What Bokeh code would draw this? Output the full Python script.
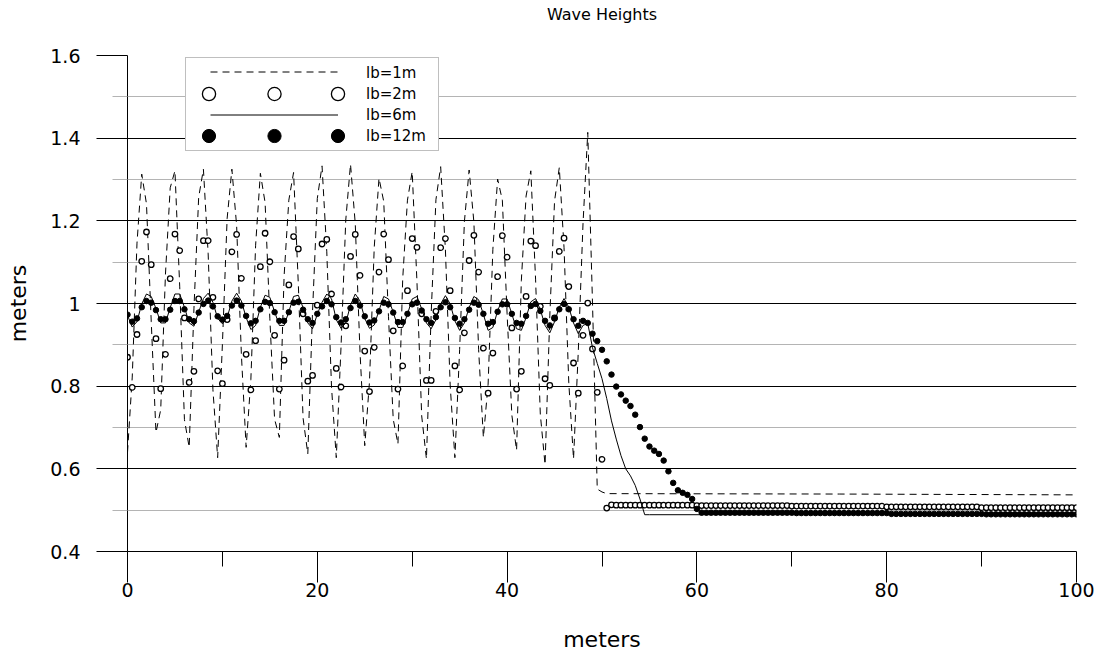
import numpy as np
from bokeh.plotting import figure
from bokeh.models import (FixedTicker, CustomJSTickFormatter, Legend, LegendItem, Range1d)
from bokeh.embed import file_html
from bokeh.resources import INLINE

STEP = 0.5  # spacing of the samples along x (meters)

# lb=1m (dashed line), samples every 0.5 m from x=0, then the flat tail
lb1_vals = [
    0.640, 0.822, 1.146, 1.313, 1.241, 0.957, 0.688, 0.743, 1.071, 1.280,
    1.321, 1.042, 0.719, 0.652, 0.987, 1.257, 1.325, 1.120, 0.792, 0.627,
    0.901, 1.206, 1.325, 1.188, 0.877, 0.652, 0.816, 1.141, 1.315, 1.244,
    0.963, 0.720, 0.676, 1.066, 1.250, 1.317, 1.047, 0.723, 0.636, 0.982,
    1.254, 1.333, 1.125, 0.797, 0.627, 0.895, 1.202, 1.337, 1.193, 0.883,
    0.656, 0.811, 1.136, 1.303, 1.247, 0.969, 0.720, 0.660, 1.060, 1.250,
    1.319, 1.053, 0.728, 0.624, 0.976, 1.251, 1.331, 1.130, 0.803, 0.627,
    0.889, 1.198, 1.323, 1.197, 0.888, 0.676, 0.805, 1.131, 1.301, 1.250,
    0.975, 0.730, 0.645, 1.055, 1.260, 1.321, 1.059, 0.732, 0.610, 0.970,
    1.248, 1.329, 1.135, 0.808, 0.624, 0.883, 1.194, 1.414, 1.000, 0.551,
    0.544, 0.540,
]
lb1_tail_x = [75.0, 100.0]
lb1_tail = [0.539, 0.537]

# lb=2m (open circles), every 0.5 m from 0 to 100
lb2_vals = [
    0.870, 0.797, 0.925, 1.102, 1.173, 1.094, 0.915, 0.794, 0.877, 1.060,
    1.168, 1.128, 0.965, 0.809, 0.836, 1.011, 1.152, 1.152, 1.015, 0.837,
    0.806, 0.961, 1.125, 1.167, 1.061, 0.877, 0.791, 0.910, 1.089, 1.170,
    1.101, 0.923, 0.793, 0.863, 1.045, 1.162, 1.132, 0.975, 0.812, 0.826,
    0.996, 1.144, 1.155, 1.023, 0.843, 0.798, 0.946, 1.114, 1.167, 1.068,
    0.885, 0.787, 0.894, 1.076, 1.168, 1.106, 0.934, 0.793, 0.849, 1.031,
    1.157, 1.136, 0.975, 0.814, 0.814, 0.981, 1.135, 1.157, 1.031, 0.849,
    0.791, 0.929, 1.104, 1.165, 1.076, 0.892, 0.783, 0.880, 1.065, 1.164,
    1.112, 0.941, 0.793, 0.836, 1.017, 1.151, 1.140, 0.993, 0.818, 0.802,
    0.965, 1.126, 1.158, 1.041, 0.856, 0.783, 0.923, 1.001, 0.890, 0.785,
    0.623, 0.505, 0.513, 0.512, 0.512, 0.512, 0.512, 0.512, 0.512, 0.512,
    0.512, 0.512, 0.512, 0.512, 0.512, 0.512, 0.512, 0.512, 0.512, 0.512,
    0.511, 0.511, 0.511, 0.511, 0.511, 0.511, 0.511, 0.511, 0.511, 0.511,
    0.511, 0.511, 0.511, 0.511, 0.511, 0.511, 0.511, 0.511, 0.511, 0.511,
    0.510, 0.510, 0.510, 0.510, 0.510, 0.510, 0.510, 0.510, 0.510, 0.510,
    0.510, 0.510, 0.510, 0.510, 0.510, 0.510, 0.510, 0.510, 0.510, 0.510,
    0.508, 0.508, 0.508, 0.508, 0.508, 0.508, 0.508, 0.508, 0.508, 0.508,
    0.508, 0.508, 0.508, 0.508, 0.508, 0.508, 0.508, 0.508, 0.508, 0.508,
    0.506, 0.506, 0.506, 0.506, 0.506, 0.506, 0.506, 0.506, 0.506, 0.506,
    0.506, 0.506, 0.506, 0.506, 0.506, 0.506, 0.506, 0.506, 0.506, 0.506,
    0.506,
]

# lb=6m (solid line), every 0.5 m from x=0, then the flat tail
lb6_vals = [
    0.971, 0.943, 0.956, 0.999, 1.023, 1.017, 0.988, 0.953, 0.953, 0.990,
    1.023, 1.023, 0.991, 0.953, 0.945, 0.979, 1.012, 1.025, 1.003, 0.964,
    0.951, 0.966, 1.006, 1.025, 1.006, 0.966, 0.937, 0.947, 0.991, 1.020,
    1.015, 0.980, 0.947, 0.947, 0.980, 1.017, 1.020, 0.990, 0.953, 0.939,
    0.974, 1.003, 1.023, 1.011, 0.961, 0.940, 0.953, 0.996, 1.023, 1.006,
    0.964, 0.940, 0.948, 0.983, 1.017, 1.011, 0.979, 0.942, 0.942, 0.974,
    1.011, 1.017, 0.987, 0.953, 0.939, 0.961, 0.999, 1.019, 0.999, 0.958,
    0.935, 0.953, 0.990, 1.017, 1.009, 0.974, 0.935, 0.942, 0.982, 1.011,
    1.011, 0.974, 0.939, 0.935, 0.966, 1.004, 1.012, 0.985, 0.947, 0.929,
    0.956, 0.991, 1.012, 0.991, 0.953, 0.927, 0.947, 0.952, 0.893, 0.855,
    0.818, 0.770, 0.716, 0.672, 0.632, 0.600, 0.583, 0.560, 0.527, 0.489,
    0.489,
]
lb6_tail_x = [100.0]
lb6_tail = [0.489]

# lb=12m (filled dots), every 0.5 m from 0 to 100
lb12_vals = [
    0.973, 0.956, 0.964, 0.991, 1.006, 1.002, 0.984, 0.962, 0.962, 0.985,
    1.006, 1.006, 0.986, 0.962, 0.957, 0.978, 0.999, 1.007, 0.993, 0.969,
    0.961, 0.970, 0.995, 1.007, 0.995, 0.970, 0.952, 0.958, 0.986, 1.004,
    1.001, 0.979, 0.958, 0.958, 0.979, 1.002, 1.004, 0.985, 0.962, 0.953,
    0.975, 0.993, 1.006, 0.998, 0.967, 0.954, 0.962, 0.989, 1.006, 0.995,
    0.969, 0.954, 0.959, 0.981, 1.002, 0.998, 0.978, 0.955, 0.955, 0.975,
    0.998, 1.002, 0.983, 0.962, 0.953, 0.967, 0.991, 1.003, 0.991, 0.965,
    0.951, 0.962, 0.985, 1.002, 0.997, 0.975, 0.951, 0.955, 0.980, 0.998,
    0.998, 0.975, 0.953, 0.951, 0.970, 0.994, 0.999, 0.982, 0.958, 0.947,
    0.964, 0.986, 0.999, 0.986, 0.962, 0.946, 0.958, 0.953, 0.927, 0.909,
    0.888, 0.860, 0.828, 0.799, 0.780, 0.765, 0.752, 0.731, 0.701, 0.673,
    0.654, 0.644, 0.636, 0.620, 0.594, 0.566, 0.548, 0.542, 0.537, 0.527,
    0.503, 0.494, 0.494, 0.494, 0.494, 0.494, 0.494, 0.494, 0.494, 0.494,
    0.494, 0.494, 0.494, 0.494, 0.494, 0.494, 0.494, 0.494, 0.494, 0.494,
    0.494, 0.493, 0.493, 0.493, 0.493, 0.493, 0.493, 0.493, 0.493, 0.493,
    0.493, 0.493, 0.493, 0.493, 0.493, 0.493, 0.493, 0.493, 0.493, 0.493,
    0.493, 0.491, 0.491, 0.491, 0.491, 0.491, 0.491, 0.491, 0.491, 0.491,
    0.491, 0.491, 0.491, 0.491, 0.491, 0.491, 0.491, 0.491, 0.491, 0.491,
    0.491, 0.490, 0.490, 0.490, 0.490, 0.490, 0.490, 0.490, 0.490, 0.490,
    0.490, 0.490, 0.490, 0.490, 0.490, 0.490, 0.490, 0.490, 0.490, 0.490,
    0.490,
]

series_labels = ["lb=1m", "lb=2m", "lb=6m", "lb=12m"]
x_ticks = [0, 20, 40, 60, 80, 100]
x_minor = [10, 30, 50, 70, 90]
y_ticks = [0.4, 0.6, 0.8, 1.0, 1.2, 1.4, 1.6]
y_minor = [0.5, 0.7, 0.9, 1.1, 1.3, 1.5]

x1 = list(np.arange(len(lb1_vals)) * STEP) + lb1_tail_x
y1 = lb1_vals + lb1_tail
x2 = list(np.arange(len(lb2_vals)) * STEP)
x6 = list(np.arange(len(lb6_vals)) * STEP) + lb6_tail_x
y6 = lb6_vals + lb6_tail
x12 = list(np.arange(len(lb12_vals)) * STEP)

FONT = "DejaVu Sans"

p = figure(width=1100, height=657, output_backend="svg", toolbar_location=None,
           x_range=Range1d(0, 100), y_range=Range1d(0.4, 1.6),
           min_border_left=127, min_border_right=24, min_border_top=55,
           min_border_bottom=106, title="Wave Heights")
p.outline_line_color = None
p.background_fill_color = "white"
p.border_fill_color = "white"

p.title.align = "center"
p.title.text_font = FONT
p.title.text_font_size = "16px"
p.title.text_font_style = "normal"
p.title.text_color = "black"
p.title.standoff = 4
p.title.padding = dict(left=0, right=0, top=0, bottom=30)

# axes
xt = FixedTicker(ticks=x_ticks, minor_ticks=x_minor)
yt = FixedTicker(ticks=y_ticks, minor_ticks=y_minor)
p.xaxis.ticker = xt
p.yaxis.ticker = yt
p.ygrid.ticker = yt
p.xgrid.visible = False
p.ygrid.grid_line_color = "black"
p.ygrid.grid_line_width = 1
p.ygrid.minor_grid_line_color = "#b4b4b4"
p.ygrid.minor_grid_line_width = 1

p.yaxis.formatter = CustomJSTickFormatter(code=r"return tick.toFixed(1).replace(/\.0$/, '');")

for ax in (p.xaxis, p.yaxis):
    ax.axis_line_color = "black"
    ax.major_tick_line_color = "black"
    ax.major_tick_in = 0
    ax.major_tick_out = 31
    ax.minor_tick_in = 0
    ax.minor_tick_out = 15
    ax.major_label_text_font = FONT
    ax.major_label_text_font_size = "19px"
    ax.major_label_text_color = "black"
    ax.axis_label = "meters"
    ax.axis_label_text_font = FONT
    ax.axis_label_text_font_size = "22px"
    ax.axis_label_text_font_style = "normal"
    ax.axis_label_text_color = "black"

p.xaxis.minor_tick_line_color = "black"
p.yaxis.minor_tick_line_color = "#b4b4b4"
p.xaxis.major_label_standoff = 0
p.xaxis.axis_label_standoff = 27
p.yaxis.major_label_standoff = 16
p.yaxis.axis_label_standoff = 16

# series
r1 = p.line(x1, y1, line_color="black", line_width=1, line_dash="7 5")
r2 = p.scatter(x2, lb2_vals, marker="circle", size=5.5, fill_color="white",
               line_color="black", line_width=1.3)
r6 = p.line(x6, y6, line_color="black", line_width=1)
r12 = p.scatter(x12, lb12_vals, marker="circle", size=5.5, fill_color="black",
                line_color="black", line_width=1)
blank = p.line(x=[], y=[], line_alpha=0)

# legend box with the labels
legA = Legend(items=[LegendItem(label=s, renderers=[blank]) for s in series_labels],
              location=(58, 400), padding=4, spacing=0, margin=0,
              glyph_height=21, glyph_width=171, label_height=21,
              label_standoff=5, label_width=68,
              label_text_font=FONT, label_text_font_size="15px",
              label_text_color="black",
              border_line_color="#808080", border_line_width=1,
              background_fill_color="white", background_fill_alpha=1)
p.add_layout(legA)

# legend samples, one small legend per row so that the markers can be large
def sample_legend(x_off, y_off, width, renderer):
    return Legend(items=[LegendItem(label=" ", renderers=[renderer])],
                  location=(x_off, y_off), padding=0, spacing=0, margin=0,
                  glyph_height=33, glyph_width=width, label_height=10,
                  label_standoff=0, label_width=0, label_text_font_size="1px",
                  border_line_alpha=0, background_fill_alpha=0)

row_y = [463, 441, 420, 399]
for r, yy in zip((r1, r2, r6, r12), row_y):
    p.add_layout(sample_legend(83, yy, 128, r))
for r, yy in ((r2, row_y[1]), (r12, row_y[3])):
    p.add_layout(sample_legend(65, yy, 33, r))
    p.add_layout(sample_legend(194, yy, 33, r))

open("out.html", "w").write(file_html(p, INLINE))
